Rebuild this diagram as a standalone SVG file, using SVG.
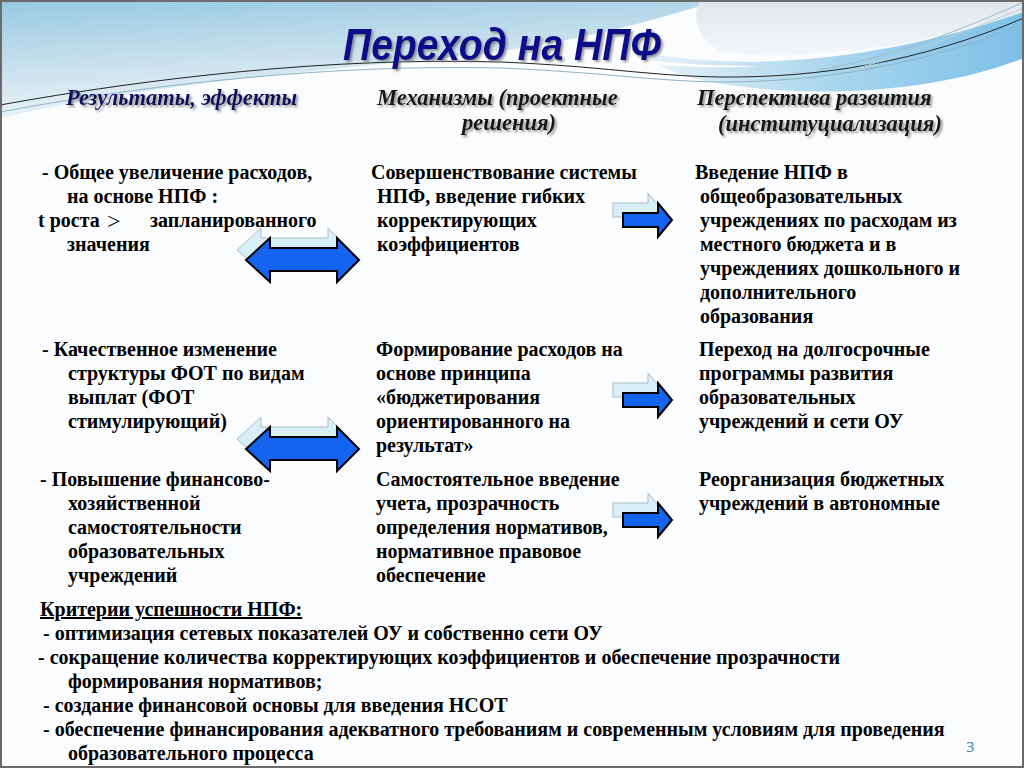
<svg xmlns="http://www.w3.org/2000/svg" width="1024" height="768" viewBox="0 0 1024 768">
<defs>
<linearGradient id="gL" x1="0" y1="0" x2="0.3" y2="1">
<stop offset="0" stop-color="#96c8e3"/>
<stop offset="0.6" stop-color="#cfe4ef"/>
<stop offset="1" stop-color="#eef4f8"/>
</linearGradient>
<linearGradient id="gR" x1="0" y1="0" x2="1" y2="0">
<stop offset="0" stop-color="#e9f3f8"/>
<stop offset="0.5" stop-color="#a9d6ee"/>
<stop offset="1" stop-color="#7cc0e6"/>
</linearGradient>
<linearGradient id="gT" x1="0" y1="0" x2="0" y2="1">
<stop offset="0" stop-color="#dfe6ea"/>
<stop offset="1" stop-color="#f4f7f9"/>
</linearGradient>
<filter id="sh" x="-5%" y="-20%" width="110%" height="150%">
<feDropShadow dx="2" dy="2" stdDeviation="1" flood-color="#808080" flood-opacity="0.8"/>
</filter>
<style>
.t{font-family:"Liberation Serif","Times New Roman",serif;font-weight:bold;font-size:20px;fill:#000}
.h{font-family:"Liberation Serif","Times New Roman",serif;font-weight:bold;font-style:italic;font-size:22.5px;filter:url(#sh)}
.main{fill:#1464f0;stroke:#000;stroke-width:2;stroke-linejoin:miter}
.ghost{fill:#d9eff7;stroke:#a8bcc6;stroke-width:1}
</style>
<path id="dbl" d="M0,0 L24,-22 V-12 H91 V-22 L113,0 L91,22 V11 H24 V22 Z"/>
<path id="rgt" d="M0,-7 H35 V-17 L49,0 L35,17 V7 H0 Z"/>
</defs>
<rect x="0" y="0" width="1024" height="768" fill="#fbfcfd"/>
<g id="background">
<path d="M0,0 H720 C640,25 560,45 470,55 C330,70 160,82 0,118 Z" fill="url(#gL)"/>
<path d="M700,0 H1024 V12 C930,45 820,62 720,52 C700,40 690,20 700,0 Z" fill="url(#gT)"/>
<path d="M640,52 C760,75 900,55 1024,12 V58 C930,95 800,100 700,80 C670,72 650,62 640,52 Z" fill="url(#gR)"/>
<path d="M560,48 C640,62 700,66 760,66 C700,70 640,66 560,48 Z" fill="#ffffff"/>
<path d="M0,105 C150,78 330,57 500,62 C600,66 650,76 720,77 C820,78 920,62 1024,18" fill="none" stroke="#222" stroke-width="1"/>
<path d="M0,112 C150,84 330,64 500,68 C600,72 650,81 720,82 C820,82 920,66 1024,24" fill="none" stroke="#8fb3c6" stroke-width="1"/>
<path d="M820,70 C900,55 960,30 1024,2" fill="none" stroke="#9dbccc" stroke-width="1"/>
<path d="M850,70 C920,52 980,25 1024,8" fill="none" stroke="#b7cfdb" stroke-width="1"/>
</g>
<rect x="1" y="1" width="1022" height="766" fill="none" stroke="#6b6b6b" stroke-width="2"/>
<g id="title">
<text x="343" y="60" textLength="318" lengthAdjust="spacingAndGlyphs" font-family="Liberation Sans, Arial, sans-serif" font-weight="bold" font-style="italic" font-size="44" fill="#0c0c8c" filter="url(#sh)">Переход на НПФ</text>
</g>
<g id="headers">
<text class="h" x="66" y="105" fill="#10105e">Результаты, эффекты</text>
<text class="h" x="377" y="105" fill="#141414">Механизмы (проектные</text>
<text class="h" x="462" y="130" fill="#141414">решения)</text>
<text class="h" x="697" y="105" fill="#141414">Перспектива развития</text>
<text class="h" x="718" y="131" fill="#141414">(институциализация)</text>
</g>
<g id="col1-row1">
<text class="t" x="42" y="179">- Общее увеличение расходов,</text>
<text class="t" x="67" y="203">на основе НПФ :</text>
<text class="t" x="38" y="227">t роста</text>
<text x="107" y="229" font-family="Liberation Serif, serif" font-size="24" fill="#000">&gt;</text>
<text class="t" x="150" y="227">запланированного</text>
<text class="t" x="67" y="251">значения</text>
</g>
<g id="col1-row2">
<text class="t" x="42" y="356">-  Качественное изменение</text>
<text class="t" x="68" y="380">структуры ФОТ по видам</text>
<text class="t" x="68" y="404">выплат (ФОТ</text>
<text class="t" x="68" y="428">стимулирующий)</text>
</g>
<g id="col1-row3">
<text class="t" x="40" y="486">-  Повышение финансово-</text>
<text class="t" x="68" y="510">хозяйственной</text>
<text class="t" x="68" y="534">самостоятельности</text>
<text class="t" x="68" y="558">образовательных</text>
<text class="t" x="68" y="582">учреждений</text>
</g>
<g id="col2-row1">
<text class="t" x="371" y="179">Совершенствование системы</text>
<text class="t" x="377" y="203">НПФ, введение гибких</text>
<text class="t" x="377" y="227">корректирующих</text>
<text class="t" x="377" y="251">коэффициентов</text>
</g>
<g id="col2-row2">
<text class="t" x="376" y="356">Формирование расходов на</text>
<text class="t" x="376" y="380">основе принципа</text>
<text class="t" x="376" y="404">«бюджетирования</text>
<text class="t" x="376" y="428">ориентированного на</text>
<text class="t" x="376" y="452">результат»</text>
</g>
<g id="col2-row3">
<text class="t" x="376" y="486">Самостоятельное введение</text>
<text class="t" x="376" y="510">учета, прозрачность</text>
<text class="t" x="376" y="534">определения нормативов,</text>
<text class="t" x="376" y="558">нормативное правовое</text>
<text class="t" x="376" y="582">обеспечение</text>
</g>
<g id="col3-row1">
<text class="t" x="695" y="179">Введение НПФ в</text>
<text class="t" x="700" y="203">общеобразовательных</text>
<text class="t" x="700" y="227">учреждениях по расходам из</text>
<text class="t" x="700" y="251">местного бюджета и в</text>
<text class="t" x="700" y="275">учреждениях дошкольного и</text>
<text class="t" x="700" y="299">дополнительного</text>
<text class="t" x="700" y="323">образования</text>
</g>
<g id="col3-row2">
<text class="t" x="699" y="356">Переход на долгосрочные</text>
<text class="t" x="699" y="380">программы развития</text>
<text class="t" x="699" y="404">образовательных</text>
<text class="t" x="699" y="428">учреждений и сети ОУ</text>
</g>
<g id="col3-row3">
<text class="t" x="699" y="486">Реорганизация бюджетных</text>
<text class="t" x="699" y="510">учреждений в автономные</text>
</g>
<g id="connectors">
<use href="#dbl" class="ghost" x="237" y="250"/>
<use href="#dbl" class="main" x="246" y="260"/>
<use href="#dbl" class="ghost" x="237" y="439"/>
<use href="#dbl" class="main" x="246" y="449"/>
<use href="#rgt" class="ghost" x="613" y="210"/>
<use href="#rgt" class="main" x="623" y="220"/>
<use href="#rgt" class="ghost" x="613" y="390"/>
<use href="#rgt" class="main" x="623" y="400"/>
<use href="#rgt" class="ghost" x="613" y="510"/>
<use href="#rgt" class="main" x="623" y="520"/>
</g>
<g id="criteria">
<text class="t" x="40" y="616" text-decoration="underline">Критерии успешности НПФ:</text>
<text class="t" x="43" y="640">- оптимизация сетевых показателей ОУ и собственно сети ОУ</text>
<text class="t" x="38" y="664">- сокращение количества корректирующих коэффициентов и обеспечение прозрачности</text>
<text class="t" x="68" y="688">формирования нормативов;</text>
<text class="t" x="43" y="712">- создание финансовой основы для введения НСОТ</text>
<text class="t" x="43" y="736">- обеспечение финансирования адекватного требованиям и современным условиям для проведения</text>
<text class="t" x="68" y="760">образовательного процесса</text>
</g>
<text x="966" y="752" font-family="Open Sans, sans-serif" font-size="15" fill="#3f86b8">3</text>
</svg>
